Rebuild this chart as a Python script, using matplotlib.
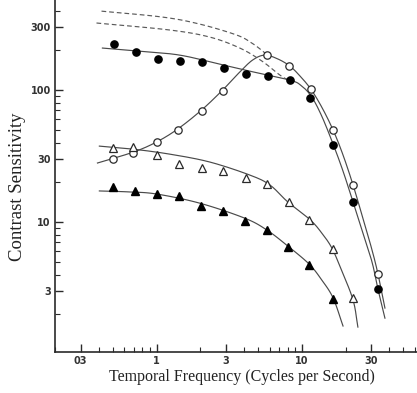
import matplotlib
matplotlib.use('Agg')
import matplotlib.pyplot as plt
import numpy as np
from matplotlib.ticker import FixedLocator, NullFormatter

# measured points (temporal frequency Hz, contrast sensitivity)
f_fill_c = [0.51, 0.72, 1.03, 1.44, 2.04, 2.90, 4.11, 5.83, 8.26, 11.4, 16.4, 22.5, 33.2]
s_fill_c = [223, 194, 172, 166, 163, 147, 132, 128, 119, 87, 38.3, 14.2, 3.1]

f_open_c = [0.50, 0.69, 1.0, 1.40, 2.04, 2.85, 5.74, 8.12, 11.5, 16.4, 22.5, 33.4]
s_open_c = [30.0, 33.3, 40.4, 49.8, 69.3, 98.3, 184, 152, 102, 49.8, 19.1, 4.04]

f_open_t = [0.505, 0.69, 1.0, 1.42, 2.04, 2.85, 4.11, 5.74, 8.12, 11.2, 16.4, 22.5]
s_open_t = [36.4, 37.0, 32.2, 27.5, 25.6, 24.3, 21.5, 19.4, 14.2, 10.4, 6.24, 2.65]

f_fill_t = [0.50, 0.705, 1.0, 1.42, 2.01, 2.85, 4.04, 5.74, 8.0, 11.2, 16.4]
s_fill_t = [18.4, 17.2, 16.3, 15.7, 13.2, 12.1, 10.2, 8.7, 6.5, 4.7, 2.6]

# hand-drawn fitted curves
cf_fill_c = [0.424, 0.763, 1.44, 2.72, 4.38, 8.26, 10.0, 11.7, 13.7, 16.4, 19.2, 22.5, 26.3, 30.4, 33.4, 37.3]
cs_fill_c = [208, 197, 184, 157, 139, 119, 107, 88.5, 63.5, 39.0, 24.3, 14.2, 8.26, 4.98, 3.10, 1.87]

cf_open_c = [0.392, 0.694, 1.0, 1.40, 2.04, 2.85, 3.74, 4.59, 5.56, 6.83, 8.26, 9.69, 11.5, 13.7,
             16.4, 19.2, 22.5, 26.3, 30.4, 33.4, 37.3]
cs_open_c = [28.0, 33.9, 40.4, 50.7, 70.5, 100, 137, 169, 184, 172, 152, 128, 102, 74.3,
             49.8, 32.2, 19.1, 10.7, 6.14, 4.04, 2.23]

cf_open_t = [0.404, 0.683, 1.23, 2.32, 4.38, 6.02, 8.0, 11.4, 13.7, 16.1, 18.6, 22.5, 24.3]
cs_open_t = [37.6, 35.7, 32.7, 28.5, 22.7, 19.1, 14.2, 10.4, 8.26, 6.35, 4.4, 2.57, 1.60]

cf_fill_t = [0.404, 0.652, 1.0, 1.98, 4.04, 5.74, 8.0, 11.2, 13.7, 16.4, 19.2]
cs_fill_t = [17.2, 16.9, 16.3, 13.9, 10.7, 8.7, 6.58, 4.81, 3.64, 2.66, 1.63]

cf_dash_hi = [0.418, 1.10, 1.98, 3.56, 4.52, 5.38, 5.83]
cs_dash_hi = [396, 357, 316, 261, 227, 197, 181]

cf_dash_lo = [0.386, 1.23, 2.32, 3.74, 5.30, 7.05, 8.26]
cs_dash_lo = [322, 285, 252, 208, 166, 130, 117]

xticks = [0.3, 1, 3, 10, 30]
xlabels = ['03', '1', '3', '10', '30']
yticks = [3, 10, 30, 100, 300]
ylabels = ['3', '10', '30', '100', '300']


def smooth(fx, sy, n=12):
    # catmull-rom through the knots, in log-log space, just for drawing the pen line
    p = np.column_stack([np.log10(fx), np.log10(sy)])
    p = np.vstack([2*p[0] - p[1], p, 2*p[-1] - p[-2]])
    out = []
    t = np.linspace(0, 1, n, endpoint=False)[:, None]
    for i in range(1, len(p) - 2):
        p0, p1, p2, p3 = p[i-1], p[i], p[i+1], p[i+2]
        seg = 0.5*((2*p1) + (-p0 + p2)*t + (2*p0 - 5*p1 + 4*p2 - p3)*t**2
                   + (-p0 + 3*p1 - 3*p2 + p3)*t**3)
        out.append(seg)
    out.append(p[-2][None, :])
    out = np.vstack(out)
    return 10**out[:, 0], 10**out[:, 1]


ink = '#2a2a2a'
fig = plt.figure(figsize=(4.17, 3.93), dpi=100)
ax = fig.add_axes([55/417, 41/393, 1 - 55/417, 352/393])
ax.set_xscale('log'); ax.set_yscale('log')
ax.set_xlim(0.2, 62); ax.set_ylim(1.036, 481)

lw = 0.85
for cf, cs in [(cf_fill_c, cs_fill_c), (cf_open_c, cs_open_c),
               (cf_open_t, cs_open_t), (cf_fill_t, cs_fill_t)]:
    ax.plot(*smooth(cf, cs), color='#4a4a4a', lw=lw)
for cf, cs in [(cf_dash_hi, cs_dash_hi), (cf_dash_lo, cs_dash_lo)]:
    ax.plot(*smooth(cf, cs), color='#5a5a5a', lw=lw, ls=(0, (4, 2.5)))

ax.plot(f_fill_c, s_fill_c, 'o', ms=5.2, mfc='black', mec='black', zorder=3)
ax.plot(f_open_c, s_open_c, 'o', ms=5.3, mfc='white', mec=ink, mew=0.9, zorder=3)
ax.plot(f_open_t, s_open_t, '^', ms=5.3, mfc='white', mec=ink, mew=0.9, zorder=3)
ax.plot(f_fill_t, s_fill_t, '^', ms=5.3, mfc='black', mec='black', zorder=3)

for side in ['top', 'right']:
    ax.spines[side].set_visible(False)
for side in ['left', 'bottom']:
    ax.spines[side].set_color(ink)
    ax.spines[side].set_linewidth(1.2)

ax.xaxis.set_major_locator(FixedLocator(xticks))
ax.set_xticklabels(xlabels)
ax.yaxis.set_major_locator(FixedLocator(yticks))
ax.set_yticklabels(ylabels)
ax.xaxis.set_minor_formatter(NullFormatter())
ax.yaxis.set_minor_formatter(NullFormatter())
ax.tick_params(which='major', direction='in', length=6, width=1.0, color=ink,
               labelsize=7, labelcolor='#333333', pad=3)
ax.tick_params(which='minor', direction='in', length=3.5, width=0.8, color=ink)
for lab in ax.get_xticklabels() + ax.get_yticklabels():
    lab.set_fontweight('bold')

fig.text(18/417, 1 - 187/393, 'Contrast Sensitivity', rotation=90, ha='center', va='center',
         family='Liberation Serif', fontsize=13.5, color='#222222')
fig.text(242/417, 1 - 377/393, 'Temporal Frequency (Cycles per Second)', ha='center', va='center',
         family='Liberation Serif', fontsize=11.5, color='#222222')

fig.savefig('out.png', dpi=100, facecolor='white')
